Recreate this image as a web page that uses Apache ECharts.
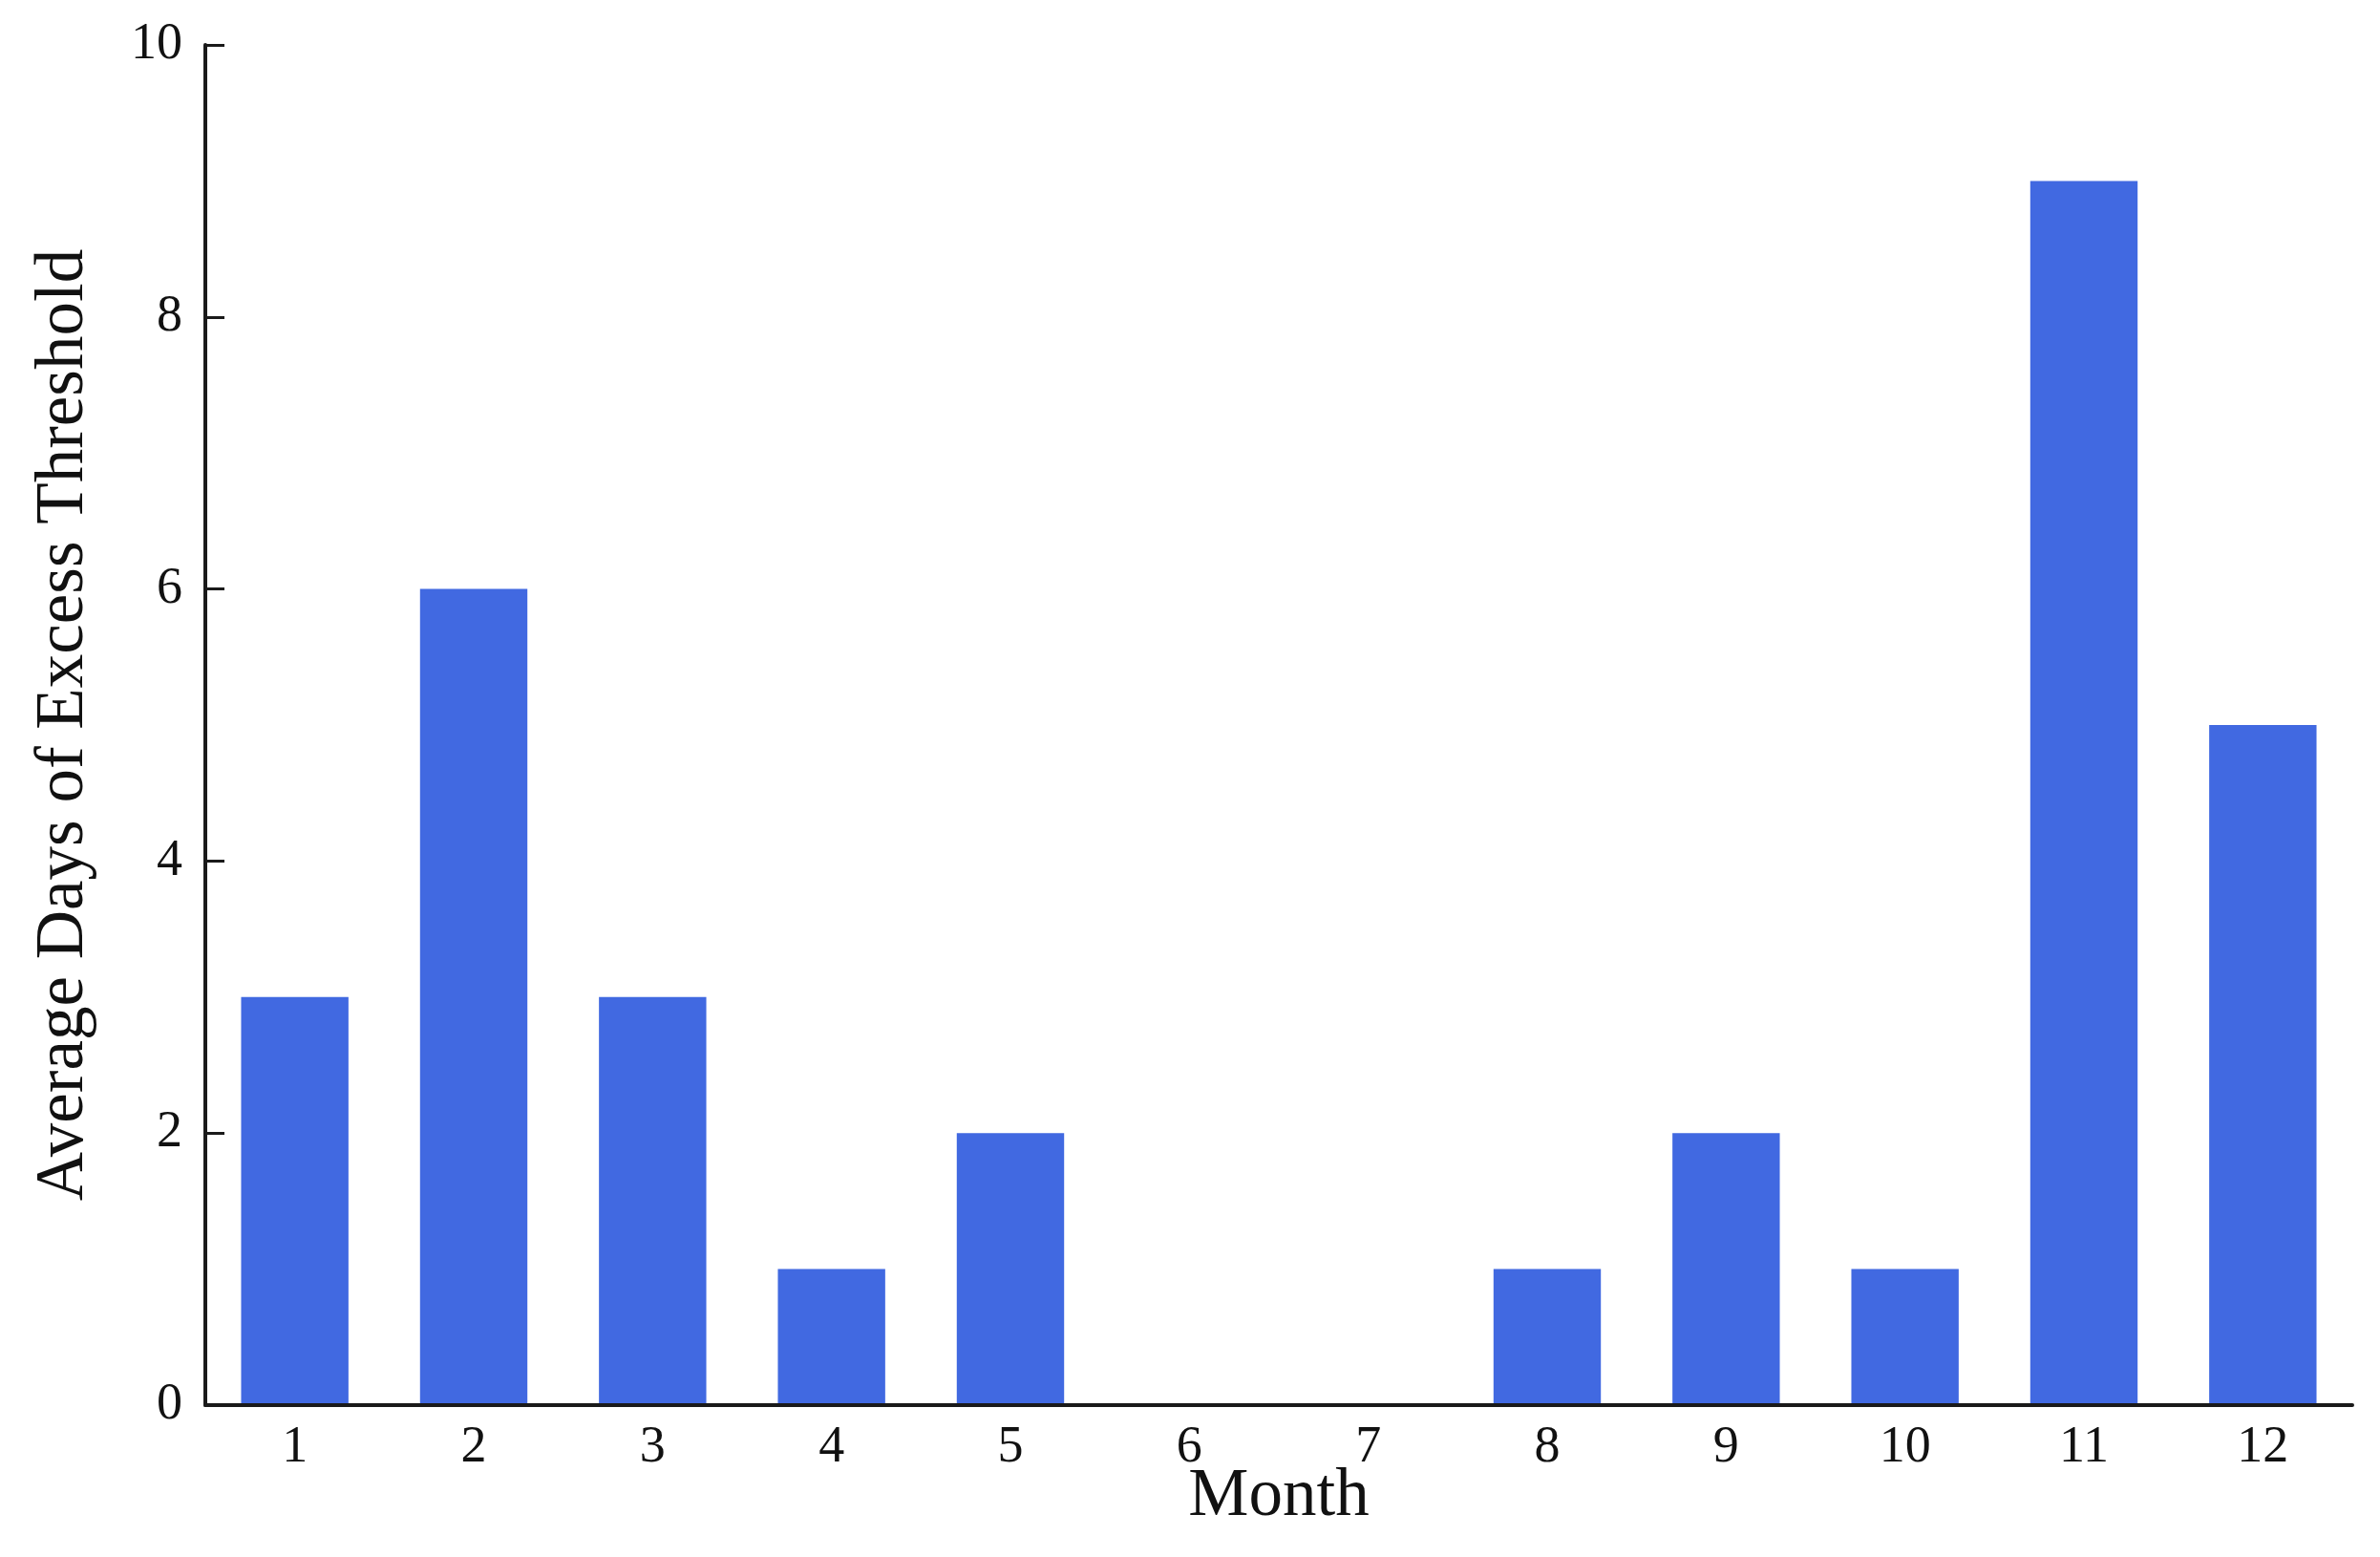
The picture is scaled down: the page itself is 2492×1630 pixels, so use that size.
<!DOCTYPE html>
<html>
<head>
<meta charset="utf-8">
<script src="https://cdn.jsdelivr.net/npm/echarts@6/dist/echarts.min.js"></script>
<style>
  html, body { margin: 0; padding: 0; background: #fff; }
  #main { width: 2492px; height: 1630px; }
</style>
</head>
<body>
<div id="main"></div>
<script>
// data
var months = ['1','2','3','4','5','6','7','8','9','10','11','12'];
var days = [3, 6, 3, 1, 2, 0, 0, 1, 2, 1, 9, 5];
var yTicks = [0, 2, 4, 6, 8, 10];

var font = '"Liberation Serif", "Times New Roman", serif';
var axisColor = '#1a1a1a';

var chart = echarts.init(document.getElementById('main'));

var option = {
  backgroundColor: '#fff',
  animation: false,
  grid: { left: 215, right: 29, top: 47, bottom: 159 },
  xAxis: {
    type: 'category',
    data: months,
    boundaryGap: true,
    z: 20,
    name: 'Month',
    nameLocation: 'middle',
    nameGap: 61,
    nameMoveOverlap: false,
    nameTextStyle: { fontFamily: font, fontSize: 71, color: '#111' },
    axisLine: { lineStyle: { color: axisColor, width: 4 } },
    axisTick: { inside: true, length: 20, alignWithLabel: true,
                lineStyle: { color: '#0a1040', width: 3 } },
    axisLabel: { fontFamily: font, fontSize: 54, color: '#111', margin: 18 },
    splitLine: { show: false }
  },
  yAxis: {
    type: 'value',
    min: yTicks[0],
    max: yTicks[yTicks.length - 1],
    interval: 2,
    z: 20,
    name: 'Average Days of Excess Threshold',
    nameLocation: 'middle',
    nameGap: 112,
    nameMoveOverlap: false,
    nameTextStyle: { fontFamily: font, fontSize: 71, color: '#111' },
    axisLine: { show: true, lineStyle: { color: axisColor, width: 4 } },
    axisTick: { show: true, inside: true, length: 20,
                lineStyle: { color: axisColor, width: 3 } },
    axisLabel: { fontFamily: font, fontSize: 54, color: '#111', margin: 24 },
    splitLine: { show: false }
  },
  series: [{
    type: 'bar',
    data: days,
    z: 1,
    barCategoryGap: '40%',
    itemStyle: { color: '#4169E1' }
  }]
};

chart.setOption(option);
</script>
</body>
</html>
